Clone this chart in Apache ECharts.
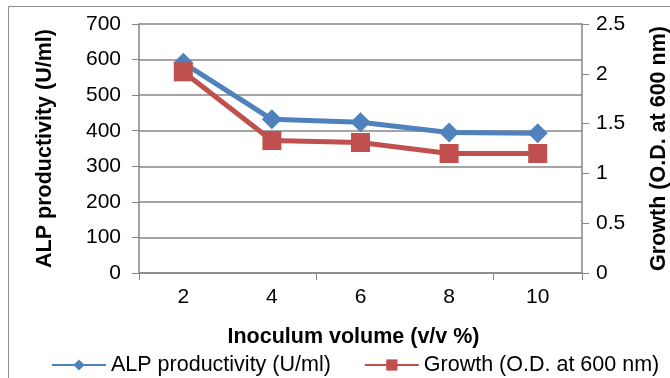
<!DOCTYPE html>
<html>
<head>
<meta charset="utf-8">
<script src="https://cdn.jsdelivr.net/npm/echarts@6/dist/echarts.min.js"></script>
<style>
  html, body { margin: 0; padding: 0; background: #fff; }
  #chart { width: 670px; height: 378px; }
</style>
</head>
<body>
<div id="chart"></div>
<script>
// Inoculum volume categories (v/v %)
const categories = ['2', '4', '6', '8', '10'];
// ALP productivity (U/ml)
const alpValues = [591, 432, 424, 395, 393];
// Growth measured as O.D. at 600 nm
const growthValues = [2.02, 1.33, 1.31, 1.2, 1.2];

const axisGray = '#868686';
const font = 'Liberation Sans, Arial, sans-serif';
const tickFont = 21;
const titleFont = 21.5;

const chart = echarts.init(document.getElementById('chart'));
chart.setOption({
  animation: false,
  backgroundColor: '#fff',
  textStyle: { fontFamily: font },
  graphic: [{
    type: 'rect',
    shape: { x: 8.5, y: 6.5, width: 700, height: 400 },
    style: { fill: 'none', stroke: '#8c8c8c', lineWidth: 1 },
    silent: true
  }],
  grid: { left: 139, right: 88, top: 24, bottom: 105, outerBoundsMode: 'none', containLabel: false },
  legend: {
    left: 46,
    top: 349,
    width: 622,
    itemWidth: 54,
    itemHeight: 14,
    itemGap: 33,
    textStyle: { fontFamily: font, fontSize: titleFont, color: '#000' },
    data: ['ALP productivity (U/ml)', 'Growth (O.D. at 600 nm)']
  },
  xAxis: {
    type: 'category',
    data: categories,
    boundaryGap: true,
    name: 'Inoculum volume (v/v %)',
    nameLocation: 'middle',
    nameGap: 53,
    nameTextStyle: {
      fontFamily: font, fontSize: titleFont, fontWeight: 'bold', color: '#000',
      padding: [0, 14, 0, 0]
    },
    axisLine: { lineStyle: { color: axisGray, width: 1.5 } },
    axisTick: { show: true, interval: 1, length: 7, lineStyle: { color: axisGray } },
    axisLabel: { interval: 0, margin: 14, fontSize: tickFont, color: '#000', fontFamily: font },
    splitLine: { show: false }
  },
  yAxis: [{
    type: 'value',
    min: 0, max: 700, interval: 100,
    name: 'ALP productivity (U/ml)',
    nameLocation: 'middle',
    nameGap: 83,
    nameRotate: 90,
    nameTextStyle: { fontFamily: font, fontSize: titleFont, fontWeight: 'bold', color: '#000' },
    axisLine: { show: true, lineStyle: { color: axisGray, width: 1.5 } },
    axisTick: { show: true, length: 7, lineStyle: { color: axisGray } },
    axisLabel: { margin: 18, fontSize: tickFont, color: '#000', fontFamily: font },
    splitLine: { show: true, lineStyle: { color: axisGray, width: 1.5 } }
  }, {
    type: 'value',
    min: 0, max: 2.5, interval: 0.5,
    position: 'right',
    name: 'Growth (O.D. at 600 nm)',
    nameLocation: 'middle',
    nameGap: 66,
    nameRotate: 90,
    nameTextStyle: { fontFamily: font, fontSize: titleFont, fontWeight: 'bold', color: '#000' },
    axisLine: { show: true, lineStyle: { color: axisGray, width: 1.5 } },
    axisTick: { show: true, length: 7, lineStyle: { color: axisGray } },
    axisLabel: { margin: 14, fontSize: tickFont, color: '#000', fontFamily: font },
    splitLine: { show: false }
  }],
  series: [{
    name: 'ALP productivity (U/ml)',
    type: 'line',
    yAxisIndex: 0,
    data: alpValues,
    symbol: 'diamond',
    symbolSize: 20,
    showAllSymbol: true,
    itemStyle: { color: '#4F81BD' },
    lineStyle: { color: '#4F81BD', width: 5 },
    z: 3
  }, {
    name: 'Growth (O.D. at 600 nm)',
    type: 'line',
    yAxisIndex: 1,
    data: growthValues,
    symbol: 'rect',
    symbolSize: 19,
    showAllSymbol: true,
    itemStyle: { color: '#C0504D' },
    lineStyle: { color: '#C0504D', width: 5 },
    z: 4
  }]
});
</script>
</body>
</html>
